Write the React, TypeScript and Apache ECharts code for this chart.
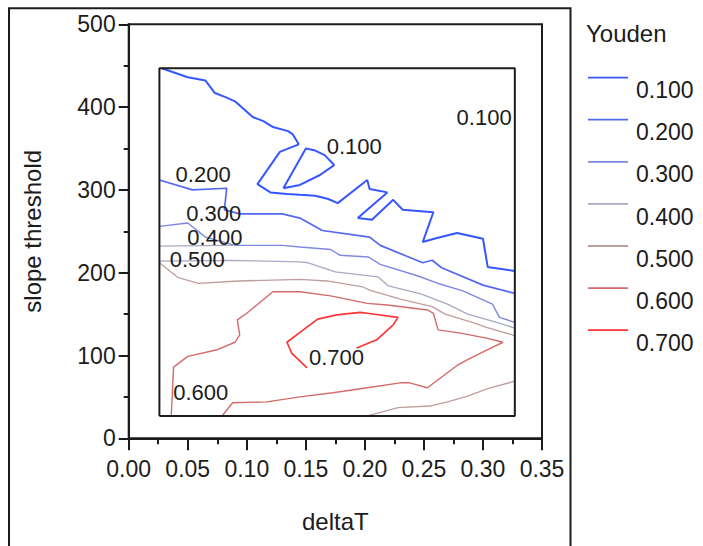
import React, { useEffect, useRef } from "react";
import * as echarts from "echarts";

// Contour levels of the Youden index and how each is stroked
const levels = ["0.100", "0.200", "0.300", "0.400", "0.500", "0.600", "0.700"];
const levelColors = ["#3657ff", "#5468f2", "#7d88de", "#a9a9c3", "#c09e9e", "#d26b6b", "#ff3434"];
const levelWidths = [2, 1.7, 1.4, 1.3, 1.3, 1.4, 1.7];

// Axis ranges: deltaT (x) and slope threshold (y)
const deltaTRange = [0, 0.35, 0.05];
const slopeRange = [0, 500, 100];

// Extent of the evaluated (deltaT, slope threshold) grid
const gridDeltaT = [0.026, 0.327];
const gridSlope = [27, 447];

// Contour polylines, points are [deltaT, slope threshold]
const contour100Main = [
  [0.028, 447], [0.05, 436], [0.065, 432], [0.073, 417], [0.082, 412], [0.09, 407],
  [0.105, 388], [0.114, 383], [0.122, 376], [0.135, 371], [0.139, 367], [0.144, 355],
  [0.128, 346], [0.109, 307], [0.12, 297], [0.134, 295], [0.145, 294], [0.158, 293],
  [0.169, 289], [0.177, 284], [0.202, 312], [0.204, 301], [0.219, 297], [0.194, 266],
  [0.206, 264], [0.224, 288], [0.232, 276], [0.258, 273], [0.249, 237], [0.261, 242],
  [0.278, 248], [0.3, 241], [0.304, 207], [0.327, 202],
];
const contour100Loop = [
  [0.131, 302], [0.15, 350], [0.157, 348], [0.166, 342], [0.174, 330], [0.162, 318],
  [0.145, 306], [0.131, 302],
];
const contour200 = [
  [0.026, 312], [0.054, 300], [0.083, 302], [0.081, 276], [0.094, 271], [0.13, 271],
  [0.145, 266], [0.164, 251], [0.204, 243], [0.213, 233], [0.249, 212], [0.257, 215],
  [0.265, 206], [0.3, 185], [0.327, 175],
];
const contour300 = [
  [0.026, 256], [0.05, 260], [0.065, 243], [0.09, 233], [0.13, 233], [0.145, 231],
  [0.171, 228], [0.179, 221], [0.203, 219], [0.213, 210], [0.245, 196], [0.262, 187],
  [0.283, 178], [0.308, 162], [0.314, 146], [0.327, 140],
];
const contour400Edge = [[0.026, 232], [0.088, 233]];
const contour400 = [
  [0.026, 214], [0.086, 215], [0.145, 213], [0.152, 212], [0.164, 206], [0.175, 201],
  [0.211, 195], [0.22, 184], [0.248, 174], [0.27, 162], [0.287, 150], [0.314, 139],
  [0.327, 133],
];
const contour500 = [
  [0.026, 212], [0.042, 194], [0.059, 187], [0.093, 190], [0.145, 192], [0.168, 190],
  [0.198, 183], [0.204, 179], [0.23, 168], [0.257, 159], [0.268, 150], [0.291, 140],
  [0.303, 134], [0.327, 124],
];
const contour500Low = [
  [0.202, 27], [0.228, 37], [0.255, 39], [0.27, 44], [0.287, 51], [0.304, 60], [0.327, 69],
];
const contour600 = [
  [0.036, 27], [0.038, 86], [0.05, 99], [0.075, 107], [0.09, 116], [0.094, 125],
  [0.092, 143], [0.1, 151], [0.122, 177], [0.145, 177], [0.171, 172], [0.202, 163],
  [0.219, 161], [0.253, 155], [0.258, 151], [0.262, 131], [0.281, 127], [0.303, 121],
  [0.317, 116], [0.304, 107], [0.287, 95], [0.278, 88], [0.253, 61], [0.238, 67],
  [0.23, 67], [0.202, 61], [0.173, 55], [0.145, 50], [0.117, 44], [0.088, 43], [0.079, 27],
];
const contour700 = [
  [0.151, 85], [0.138, 103], [0.134, 116], [0.145, 128], [0.16, 144], [0.176, 149],
  [0.196, 152], [0.202, 151], [0.228, 146], [0.224, 137], [0.21, 119], [0.193, 109],
];

const contourSegments = [
  { level: "0.100", points: contour100Main },
  { level: "0.100", points: contour100Loop },
  { level: "0.200", points: contour200 },
  { level: "0.300", points: contour300 },
  { level: "0.400", points: contour400Edge },
  { level: "0.400", points: contour400 },
  { level: "0.500", points: contour500 },
  { level: "0.500", points: contour500Low },
  { level: "0.600", points: contour600 },
  { level: "0.700", points: contour700 },
];

// In-plot contour labels: [deltaT, slope threshold, text]
const contourLabels = [
  [0.191, 353, "0.100"],
  [0.301, 388, "0.100"],
  [0.063, 319, "0.200"],
  [0.072, 272, "0.300"],
  [0.073, 243, "0.400"],
  [0.058, 216, "0.500"],
  [0.061, 55, "0.600"],
  [0.176, 97, "0.700"],
];

const FONT = "'Liberation Sans', Arial, sans-serif";
const INK = "#1c1c1c";

export default function App() {
  const ref = useRef<HTMLDivElement>(null);

  useEffect(() => {
    if (!ref.current) return;
    const chart = echarts.init(ref.current, undefined, { renderer: "svg" });

    const lineSeries = contourSegments.map((seg) => {
      const i = levels.indexOf(seg.level);
      return {
        type: "line",
        name: seg.level,
        data: seg.points,
        symbol: "none",
        showSymbol: false,
        silent: true,
        z: 3,
        lineStyle: { color: levelColors[i], width: levelWidths[i] },
        itemStyle: { color: levelColors[i] },
        emphasis: { disabled: true },
      };
    });

    const [x0, x1] = gridDeltaT;
    const [y0, y1] = gridSlope;

    chart.setOption({
      animation: false,
      backgroundColor: "#fff",
      textStyle: { fontFamily: FONT },
      title: {
        text: "Youden",
        left: 586,
        top: 21,
        padding: 0,
        textStyle: { fontFamily: FONT, fontSize: 24, fontWeight: "normal", color: INK },
      },
      legend: {
        orient: "vertical",
        left: 588,
        top: 76.7,
        padding: 0,
        itemWidth: 40,
        itemHeight: 27,
        itemGap: 15.1,
        selectedMode: false,
        icon: "path://M0,0H40V1.8H0Z M0,27H0.01V27.01H0Z",
        itemStyle: { borderWidth: 0 },
        data: levels,
        textStyle: { fontFamily: FONT, fontSize: 23, color: INK, padding: [0, 0, 0, 3] },
      },
      grid: {
        left: 128.7,
        top: 24.3,
        right: 161,
        bottom: 107.7,
        show: true,
        borderColor: INK,
        borderWidth: 2,
      },
      xAxis: {
        type: "value",
        min: deltaTRange[0],
        max: deltaTRange[1],
        interval: deltaTRange[2],
        name: "deltaT",
        nameLocation: "middle",
        nameGap: 71,
        nameTextStyle: { fontFamily: FONT, fontSize: 24, color: INK },
        axisLine: { show: true, lineStyle: { color: INK, width: 2 } },
        axisTick: { show: true, length: 12, lineStyle: { color: INK, width: 2 } },
        minorTick: { show: true, splitNumber: 2, length: 6, lineStyle: { color: INK, width: 2 } },
        splitLine: { show: false },
        minorSplitLine: { show: false },
        axisLabel: {
          margin: 19,
          fontFamily: FONT,
          fontSize: 23,
          color: INK,
          formatter: (v: number) => v.toFixed(2),
        },
      },
      yAxis: {
        type: "value",
        min: slopeRange[0],
        max: slopeRange[1],
        interval: slopeRange[2],
        name: "slope threshold",
        nameLocation: "middle",
        nameGap: 84,
        nameTextStyle: { fontFamily: FONT, fontSize: 24, color: INK },
        axisLine: { show: true, lineStyle: { color: INK, width: 2 } },
        axisTick: { show: true, length: 10, lineStyle: { color: INK, width: 2 } },
        minorTick: { show: true, splitNumber: 2, length: 5, lineStyle: { color: INK, width: 2 } },
        splitLine: { show: false },
        minorSplitLine: { show: false },
        axisLabel: {
          margin: 13,
          fontFamily: FONT,
          fontSize: 23,
          color: INK,
          padding: [5, 0, 0, 0],
        },
      },
      graphic: [
        {
          type: "rect",
          shape: { x: 9, y: 8.3, width: 561.5, height: 600 },
          style: { fill: "none", stroke: INK, lineWidth: 2 },
          silent: true,
          z: 0,
        },
      ],
      series: [
        ...lineSeries,
        {
          type: "line",
          name: "grid extent",
          data: [[x0, y0], [x1, y0], [x1, y1], [x0, y1], [x0, y0]],
          symbol: "none",
          silent: true,
          z: 4,
          lineStyle: { color: INK, width: 2 },
          emphasis: { disabled: true },
        },
        {
          type: "scatter",
          name: "contour labels",
          data: contourLabels,
          symbolSize: 1,
          silent: true,
          z: 5,
          itemStyle: { color: "#ffffff", opacity: 1 },
          label: {
            show: true,
            position: "inside",
            formatter: (p: any) => p.value[2],
            fontFamily: FONT,
            fontSize: 22,
            lineHeight: 20,
            color: INK,
            opacity: 1,
            textBorderWidth: 0,
            textBorderColor: "transparent",
          },
          emphasis: { disabled: true },
        },
      ],
    });

    return () => chart.dispose();
  }, []);

  return (
    <div
      ref={ref}
      style={{ position: "fixed", left: 0, top: 0, width: 703, height: 546, background: "#fff" }}
    />
  );
}
